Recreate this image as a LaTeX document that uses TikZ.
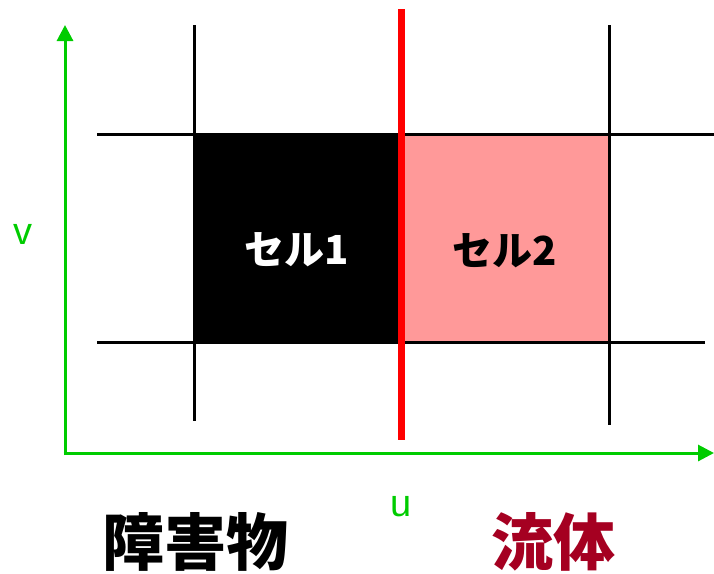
\documentclass[tikz,border=0pt]{standalone}
\usepackage{fontspec}
\setmainfont{Liberation Sans}
\newfontfamily\jpfont{Noto Sans CJK JP}
\usetikzlibrary{arrows.meta}
\definecolor{axisgreen}{HTML}{00CC00}
\definecolor{cellpink}{HTML}{FF9999}
\definecolor{fluidred}{HTML}{A50021}
\tikzset{
  gridline/.style={line width=3pt,black},
  axisline/.style={line width=3pt,axisgreen,-{Triangle[length=16pt,width=16pt]}},
  celltext/.style={font=\jpfont\bfseries\fontsize{40}{46}\selectfont},
  axislabel/.style={font=\fontsize{38}{44}\selectfont,text=axisgreen},
  bigtext/.style={font=\jpfont\bfseries\fontsize{62}{70}\selectfont}
}
\begin{document}
\begin{tikzpicture}[x=1pt,y=-1pt]
\useasboundingbox (0,0) rectangle (714,573);
% cells
\fill[black] (194,134) rectangle (401,342);
\draw[fill=cellpink,draw=red!80!black,line width=1pt] (401,134) rectangle (608,342);
% grid
\draw[gridline] (194,25) -- (194,421);
\draw[gridline] (609,25) -- (609,425);
\draw[gridline] (97,134) -- (714,134);
\draw[gridline] (97,342) -- (705,342);
% red boundary
\draw[line width=7pt,red] (401,9) -- (401,440);
% axes
\coordinate (o) at (65,453);
\coordinate (ytip) at (65,25);
\coordinate (xtip) at (714,453);
\draw[axisline] (65,455) -- (ytip);
\draw[axisline] (63.5,453) -- (xtip);
% labels
\node[axislabel] (v) at (23,234) {v};
\node[axislabel] (u) at (401,507) {u};
\node[celltext,text=white] (c1) at (297,250) {セル1};
\node[celltext,text=black] (c2) at (505,251) {セル2};
\node[bigtext,text=black] (obs) at (195,542) {障害物};
\node[bigtext,text=fluidred] (fl) at (553,542) {流体};
\end{tikzpicture}
\end{document}
